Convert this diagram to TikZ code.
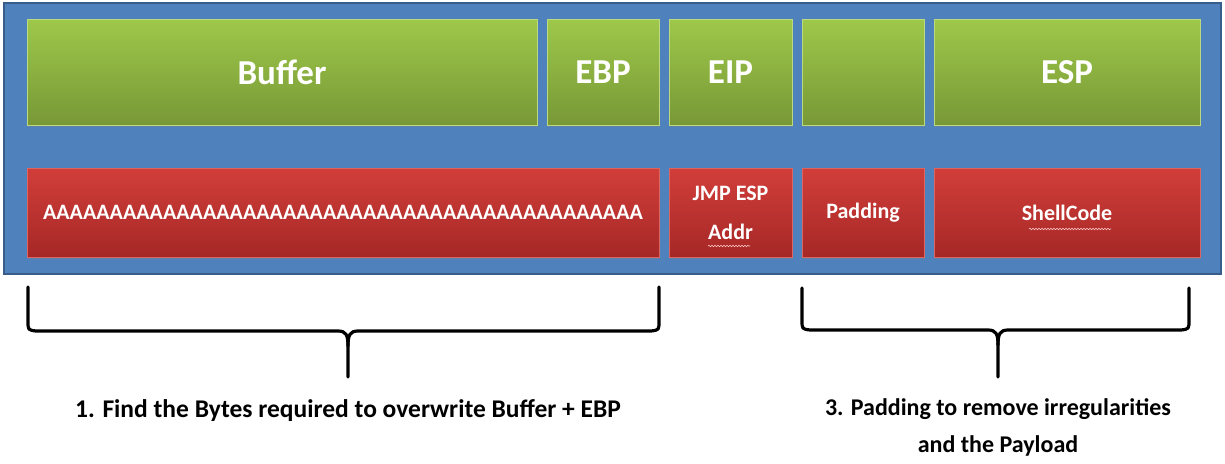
\documentclass[tikz,border=0pt]{standalone}
\usepackage{fontspec}
\setmainfont{Carlito}
\usetikzlibrary{positioning, shadows, decorations.pathmorphing}

\definecolor{stackblue}{RGB}{79,129,189}
\definecolor{stackedge}{RGB}{56,93,138}
\definecolor{greentop}{RGB}{158,200,74}
\definecolor{greenbot}{RGB}{120,152,54}
\definecolor{redtop}{RGB}{210,62,58}
\definecolor{redbot}{RGB}{165,40,38}

\tikzset{
    cell/.style={rectangle, anchor=north west, inner sep=0pt, outer sep=0pt,
        text=white, font=\bfseries, align=center,
        drop shadow={shadow xshift=1pt, shadow yshift=-2pt, opacity=0.35}},
    regbox/.style={cell, top color=greentop, bottom color=greenbot,
        draw=greentop!70!white, line width=0.6pt, minimum height=106pt,
        font=\bfseries\fontsize{35}{38}\selectfont},
    databox/.style={cell, top color=redtop, bottom color=redbot,
        draw=redtop!80!white, line width=0.6pt, minimum height=89pt,
        font=\bfseries\fontsize{22}{38}\selectfont},
    brace/.style={line width=3.2pt, black, line cap=round, line join=round},
    squiggle/.style={draw=white!80!red, line width=0.6pt,
        decorate, decoration={snake, amplitude=0.7pt, segment length=3pt}},
    note/.style={font=\bfseries\fontsize{24}{37}\selectfont, align=center, anchor=north}
}

\begin{document}
\begin{tikzpicture}[x=1pt, y=-1pt]
    \useasboundingbox (0,0) rectangle (1225,463);

    % Stack frame background
    \draw[fill=stackblue, draw=stackedge, line width=2pt] (4,3) rectangle (1221,274);

    % Registers (top row)
    \node[regbox, minimum width=510pt] (buffer) at (27,19) {Buffer};
    \node[regbox, minimum width=112pt] (ebp) at (547,19) {EBP};
    \node[regbox, minimum width=123pt] (eip) at (669,19) {EIP};
    \node[regbox, minimum width=122pt] (gap) at (802,19) {};
    \node[regbox, minimum width=266pt] (esp) at (934,19) {ESP};

    % Exploit layout (bottom row)
    \node[databox, minimum width=632pt] (junk) at (27,168)
        {AAAAAAAAAAAAAAAAAAAAAAAAAAAAAAAAAAAAAAAAAAAAA};
    \node[databox, minimum width=123pt, font=\bfseries\fontsize{22}{39}\selectfont] (jmp) at (669,168)
        {JMP ESP\\Addr};
    \node[databox, minimum width=122pt] (pad) at (802,168) {Padding};
    \node[databox, minimum width=266pt] (shell) at (934,168) {ShellCode};

    % Spell-check marks
    \draw[squiggle] (1029,229) -- (1111,229);
    \draw[squiggle] (708,246) -- (750,246);

    % Brace 1
    \coordinate (tipA) at (348,377);
    \draw[brace] (28,287) -- (28,321) .. controls (28,330) .. (36,331) -- (338,331)
        .. controls (346,331) and (348,335) .. (348,346) -- (tipA);
    \draw[brace] (659,287) -- (659,321) .. controls (659,330) .. (651,331) -- (358,331)
        .. controls (350,331) and (348,335) .. (348,346);

    % Brace 2
    \coordinate (tipB) at (998,377);
    \draw[brace] (802,288) -- (802,320) .. controls (802,329) .. (810,330) -- (988,330)
        .. controls (996,330) and (998,334) .. (998,345) -- (tipB);
    \draw[brace] (1189,288) -- (1189,320) .. controls (1189,329) .. (1181,330) -- (1008,330)
        .. controls (1000,330) and (998,334) .. (998,345);

    % Notes
    \node[note, font=\bfseries\fontsize{25.5}{37}\selectfont] (stepone) at ([yshift=-19pt]tipA)
        {1. Find the Bytes required to overwrite Buffer + EBP};
    \node[note] (stepthree) at ([yshift=-18pt]tipB) {3. Padding to remove irregularities\\and the Payload};
\end{tikzpicture}
\end{document}
